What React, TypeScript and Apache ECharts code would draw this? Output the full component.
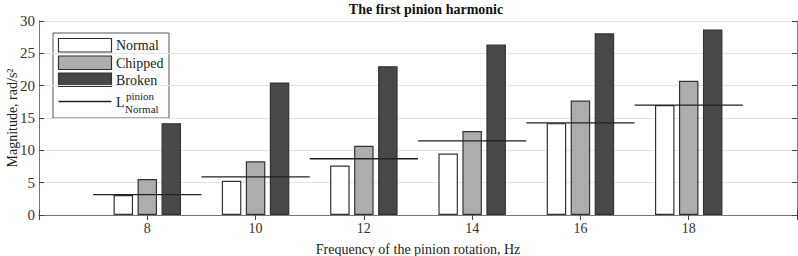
import React, { useEffect, useRef } from "react";
import * as echarts from "echarts";

const freqs = [8, 10, 12, 14, 16, 18];
const normal = [3.1, 5.3, 7.65, 9.5, 14.2, 17.0];
const chipped = [5.55, 8.3, 10.7, 13.0, 17.7, 20.75];
const broken = [14.2, 20.5, 23.0, 26.35, 28.1, 28.7];
const lNormal = [3.14, 5.9, 8.7, 11.45, 14.25, 17.0];
const yTicks = [0, 5, 10, 15, 20, 25, 30];

const FONT = "'Liberation Serif', 'Times New Roman', serif";

export default function App() {
  const ref = useRef<HTMLDivElement>(null);
  useEffect(() => {
    const chart = echarts.init(ref.current!, undefined, { renderer: "svg" });
    const axisLineStyle = { color: "#777", width: 1 };
    const xCommon = {
      type: "value" as const,
      min: 6,
      max: 20,
      interval: 2,
      splitLine: { show: false },
      axisLine: { show: true, lineStyle: axisLineStyle },
      axisTick: { show: true, inside: true, length: 5, lineStyle: { color: "#444" } },
    };
    const yCommon = {
      type: "value" as const,
      min: yTicks[0],
      max: yTicks[yTicks.length - 1],
      interval: 5,
      axisLine: { show: true, lineStyle: axisLineStyle },
      axisTick: { show: true, inside: true, length: 5, lineStyle: { color: "#444" } },
    };
    const barBase = (name: string, vals: number[], color: string) => ({
      name,
      type: "bar" as const,
      data: freqs.map((f, i) => [f, vals[i]]),
      barWidth: 19.5,
      barGap: "23%",
      itemStyle: { color, borderColor: "#333", borderWidth: 1.2 },
      z: 2,
    });
    const txt = (text: string, x: number, y: number, size: number) => ({
      type: "text",
      x,
      y,
      style: { text, font: `${size}px ${FONT}`, fill: "#222", verticalAlign: "middle", align: "left" },
    });
    chart.setOption({
      animation: false,
      backgroundColor: "#fff",
      textStyle: { fontFamily: FONT },
      title: {
        text: "The first pinion harmonic",
        left: 426,
        top: 2,
        padding: 0,
        textAlign: "center",
        textStyle: { fontFamily: FONT, fontWeight: "bold", fontSize: 14, color: "#111" },
      },
      grid: { left: 39, top: 21, right: 1, bottom: 41, outerBoundsMode: "none", containLabel: false },
      xAxis: [
        {
          ...xCommon,
          position: "bottom",
          name: "Frequency of the pinion rotation, Hz",
          nameLocation: "middle",
          nameGap: 27,
          nameMoveOverlap: false,
          nameTextStyle: { fontFamily: FONT, fontSize: 14, color: "#222" },
          axisLabel: {
            margin: 6,
            fontFamily: FONT,
            fontSize: 14,
            color: "#333",
            formatter: (v: number) => (freqs.indexOf(v) >= 0 ? String(v) : ""),
          },
        },
        {
          ...xCommon,
          position: "top",
          axisLabel: { show: false },
        },
      ],
      yAxis: [
        {
          ...yCommon,
          position: "left",
          name: "Magnitude, rad/s\u00b2",
          nameLocation: "middle",
          nameGap: 20,
          nameMoveOverlap: false,
          nameTextStyle: { fontFamily: FONT, fontSize: 14, color: "#222" },
          splitLine: { show: true, lineStyle: { color: "#e4e4e4", width: 1 } },
          axisLabel: { margin: 4, fontFamily: FONT, fontSize: 15, color: "#333" },
        },
        {
          ...yCommon,
          position: "right",
          splitLine: { show: false },
          axisLabel: { show: false },
        },
      ],
      series: [
        barBase("Normal", normal, "#ffffff"),
        barBase("Chipped", chipped, "#adadad"),
        barBase("Broken", broken, "#484848"),
        {
          name: "L",
          type: "custom",
          data: freqs.map((f, i) => [f, lNormal[i]]),
          z: 5,
          renderItem: (params: any, api: any) => {
            const x = api.value(0);
            const y = api.value(1);
            const p1 = api.coord([x - 1, y]);
            const p2 = api.coord([x + 1, y]);
            return {
              type: "line",
              shape: { x1: p1[0], y1: p1[1], x2: p2[0], y2: p2[1] },
              style: { stroke: "#222", lineWidth: 1.3 },
            };
          },
        },
      ],
      graphic: [
        {
          type: "group",
          z: 100,
          children: [
            { type: "rect", shape: { x: 53, y: 33, width: 116, height: 85 }, style: { fill: "#fff", stroke: "#555", lineWidth: 1 } },
            { type: "rect", shape: { x: 58.5, y: 38.5, width: 53, height: 13.5 }, style: { fill: "#fff", stroke: "#333", lineWidth: 1.2 } },
            { type: "rect", shape: { x: 58.5, y: 56, width: 53, height: 13.5 }, style: { fill: "#adadad", stroke: "#333", lineWidth: 1.2 } },
            { type: "rect", shape: { x: 58.5, y: 73, width: 53, height: 13.5 }, style: { fill: "#484848", stroke: "#333", lineWidth: 1.2 } },
            { type: "line", shape: { x1: 58.5, y1: 101.5, x2: 111.5, y2: 101.5 }, style: { stroke: "#222", lineWidth: 1.3 } },
            txt("Normal", 116, 45.5, 14),
            txt("Chipped", 116, 63, 14),
            txt("Broken", 116, 80, 14),
            txt("L", 116, 102, 14),
            txt("pinion", 126, 95.5, 11),
            txt("Normal", 125, 109, 11),
          ],
        },
      ],
    });
    return () => chart.dispose();
  }, []);
  return <div ref={ref} style={{ width: 798, height: 256, position: "absolute", left: 0, top: 0 }} />;
}
